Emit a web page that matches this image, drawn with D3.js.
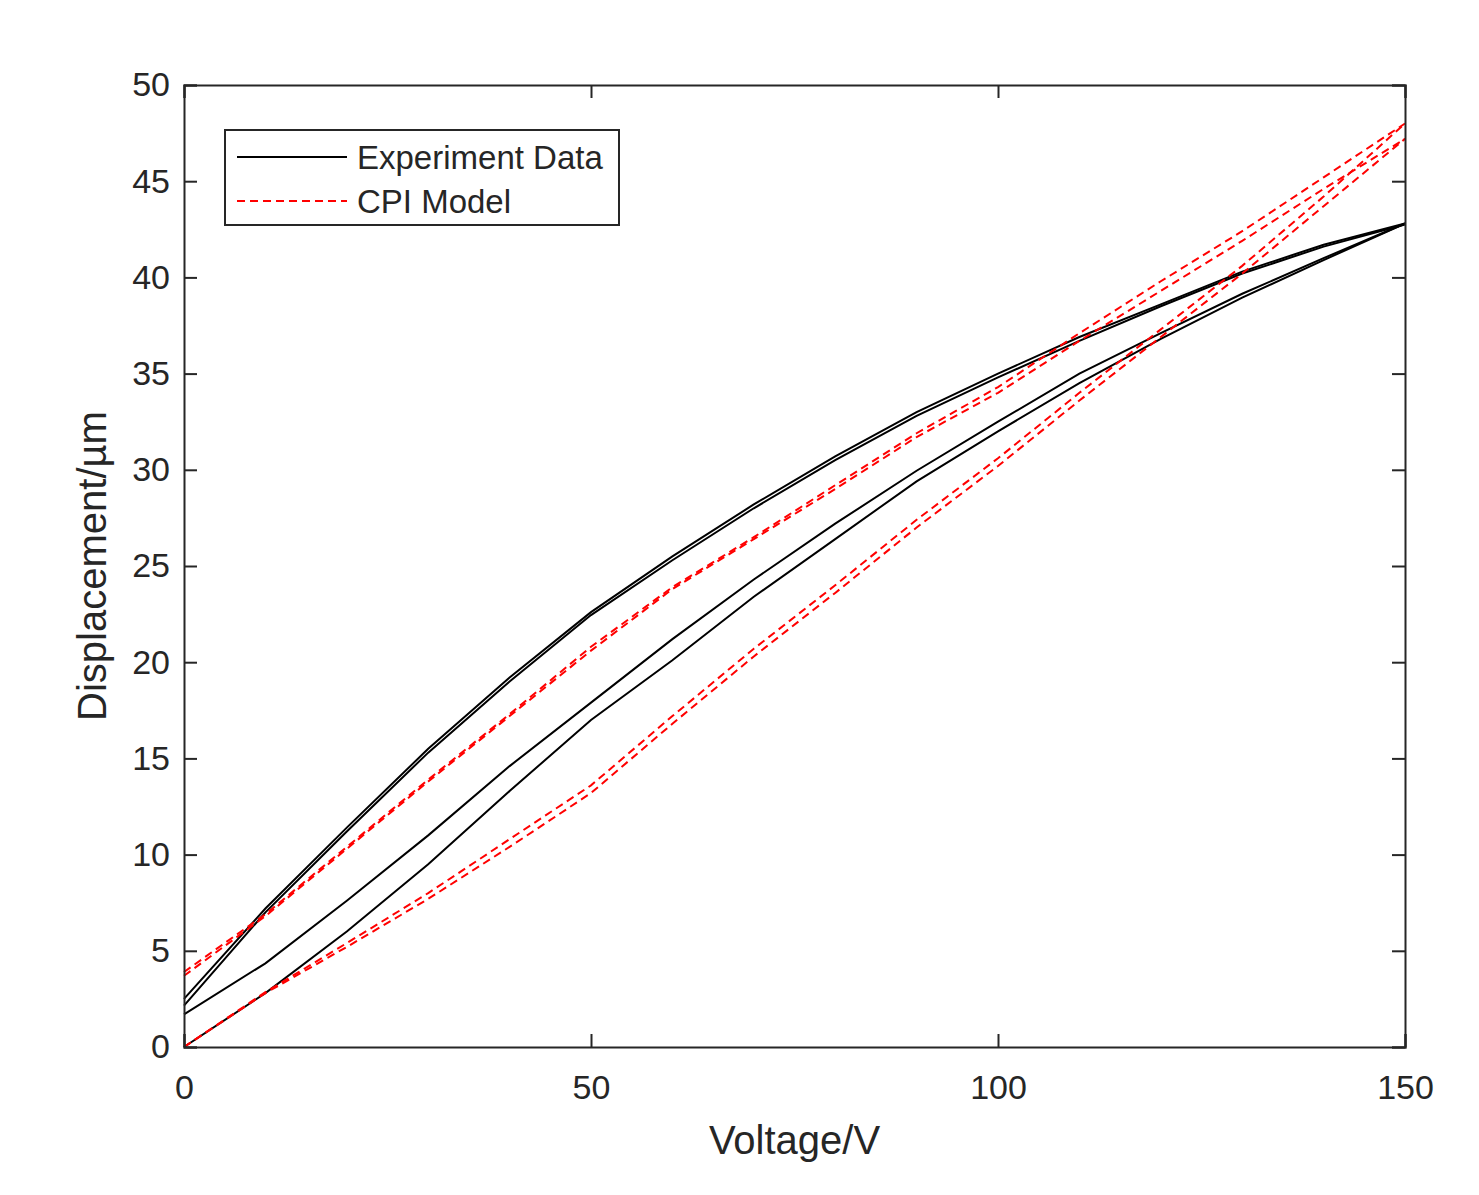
<!DOCTYPE html>
<html>
<head>
<meta charset="utf-8">
<script src="https://cdn.jsdelivr.net/npm/d3@7"></script>
<style>
  body { margin: 0; background: #fff; }
  text { font-family: "Liberation Sans", Arial, sans-serif; fill: #262626; }
</style>
</head>
<body>
<div id="chart"></div>
<script>
// Voltage steps (V)
const voltage = [0, 10, 20, 30, 40, 50, 60, 70, 80, 90, 100, 110, 120, 130, 140, 150];

// Experiment data, displacement (µm)
const expUp1 = [0, 2.8, 6.0, 9.5, 13.3, 17.0, 20.1, 23.4, 26.4, 29.4, 32.0, 34.5, 36.8, 38.95, 40.9, 42.8];
const expUp2 = [1.7, 4.35, 7.6, 11.0, 14.6, 17.9, 21.2, 24.3, 27.2, 29.95, 32.5, 35.0, 37.1, 39.15, 41.0, 42.8];
const expDown1 = [2.5, 7.2, 11.4, 15.5, 19.2, 22.6, 25.5, 28.2, 30.7, 33.0, 35.0, 36.9, 38.6, 40.3, 41.7, 42.8];
const expDown2 = [2.15, 7.0, 11.2, 15.3, 19.0, 22.45, 25.3, 28.0, 30.5, 32.8, 34.8, 36.7, 38.5, 40.2, 41.6, 42.75];

// CPI model, displacement (µm)
const cpiUp1 = [0, 2.85, 5.4, 8.0, 10.8, 13.6, 17.2, 20.7, 24.0, 27.4, 30.6, 34.0, 37.3, 40.6, 44.2, 48.0];
const cpiUp2 = [0, 2.8, 5.2, 7.7, 10.4, 13.2, 16.8, 20.3, 23.6, 27.0, 30.2, 33.6, 36.9, 40.2, 43.7, 47.2];
const cpiDown1 = [3.9, 6.9, 10.4, 13.9, 17.3, 20.8, 23.9, 26.5, 29.2, 31.9, 34.3, 37.1, 39.8, 42.4, 45.2, 48.0];
const cpiDown2 = [3.7, 6.8, 10.3, 13.8, 17.2, 20.6, 23.8, 26.4, 29.0, 31.7, 34.0, 36.7, 39.3, 41.9, 44.6, 47.2];

const xTicks = [0, 50, 100, 150];
const yTicks = [0, 5, 10, 15, 20, 25, 30, 35, 40, 45, 50];

const W = 1479, H = 1195;
const margin = {top: 85, right: 74, bottom: 148, left: 184};
const width = W - margin.left - margin.right;
const height = H - margin.top - margin.bottom;
const ink = "#262626";

const svg = d3.select("#chart")
    .append("svg")
    .attr("width", W)
    .attr("height", H);

const g = svg.append("g")
    .attr("transform", `translate(${margin.left},${margin.top})`);

const x = d3.scaleLinear().domain([0, 150]).range([0, width]);
const y = d3.scaleLinear().domain([0, 50]).range([height, 0]);

const line = d3.line()
    .x(d => x(d[0]))
    .y(d => y(d[1]));

const pairs = arr => voltage.map((v, i) => [v, arr[i]]);

// Data lines
[expUp1, expUp2, expDown1, expDown2].forEach(s => {
    g.append("path")
        .datum(pairs(s))
        .attr("fill", "none")
        .attr("stroke", "#000")
        .attr("stroke-width", 2)
        .attr("d", line);
});

[cpiUp1, cpiUp2, cpiDown1, cpiDown2].forEach(s => {
    g.append("path")
        .datum(pairs(s))
        .attr("fill", "none")
        .attr("stroke", "#ff0000")
        .attr("stroke-width", 2)
        .attr("stroke-dasharray", "8,5")
        .attr("d", line);
});

// Axes (MATLAB-style box with inward ticks)
const tick = 13;
const fontSize = 34;

const xAxis = g.append("g")
    .attr("transform", `translate(0,${height})`)
    .call(d3.axisBottom(x).tickValues(xTicks).tickSize(-tick).tickPadding(28));
const xTop = g.append("g")
    .call(d3.axisTop(x).tickValues(xTicks).tickSize(-tick).tickFormat(""));
const yAxis = g.append("g")
    .call(d3.axisLeft(y).tickValues(yTicks).tickSize(-tick).tickPadding(14));
const yRight = g.append("g")
    .attr("transform", `translate(${width},0)`)
    .call(d3.axisRight(y).tickValues(yTicks).tickSize(-tick).tickFormat(""));

[xAxis, xTop, yAxis, yRight].forEach(a => {
    a.selectAll("path").attr("stroke", ink).attr("stroke-width", 2);
    a.selectAll("line").attr("stroke", ink).attr("stroke-width", 2);
    a.selectAll("text")
        .attr("font-size", fontSize)
        .attr("font-family", "Liberation Sans, Arial, sans-serif")
        .attr("fill", ink);
});

// Axis labels
g.append("text")
    .attr("x", width / 2)
    .attr("y", height + 107)
    .attr("text-anchor", "middle")
    .attr("font-size", 40)
    .text("Voltage/V");

g.append("text")
    .attr("transform", "rotate(-90)")
    .attr("x", -height / 2)
    .attr("y", -78)
    .attr("text-anchor", "middle")
    .attr("font-size", 40)
    .text("Displacement/µm");

// Legend
const legend = g.append("g").attr("transform", "translate(41,45)");
legend.append("rect")
    .attr("width", 394)
    .attr("height", 95)
    .attr("fill", "#fff")
    .attr("stroke", ink)
    .attr("stroke-width", 2);

const legendItems = [
    {label: "Experiment Data", color: "#000", dash: null},
    {label: "CPI Model", color: "#ff0000", dash: "8,5"}
];

legendItems.forEach((d, i) => {
    const yy = 27 + i * 44;
    legend.append("line")
        .attr("x1", 12).attr("x2", 122)
        .attr("y1", yy).attr("y2", yy)
        .attr("stroke", d.color)
        .attr("stroke-width", 2)
        .attr("stroke-dasharray", d.dash);
    legend.append("text")
        .attr("x", 132)
        .attr("y", yy)
        .attr("dy", "0.36em")
        .attr("font-size", 33)
        .attr("fill", "#000")
        .text(d.label);
});
</script>
</body>
</html>
